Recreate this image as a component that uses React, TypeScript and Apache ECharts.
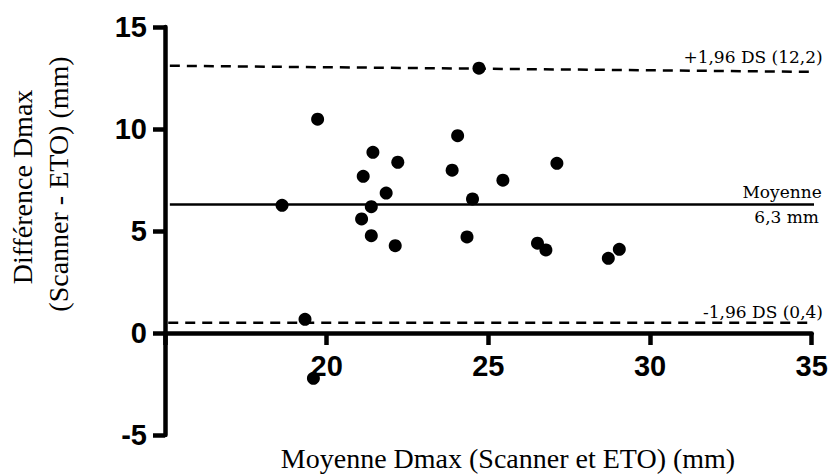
import React, { useEffect, useRef } from "react";
import * as echarts from "echarts";

// Bland-Altman data
const meanDmax = [
  19.72, 18.62, 21.43, 22.2, 21.13, 21.84, 21.38, 21.08, 21.38, 22.12, 24.05, 23.88,
  24.51, 24.34, 25.45, 27.12, 26.52, 26.78, 29.05, 28.71, 24.71, 19.33, 19.59,
];
const diffDmax = [
  10.48, 6.26, 8.86, 8.37, 7.68, 6.86, 6.19, 5.59, 4.77, 4.28, 9.67, 7.98,
  6.57, 4.71, 7.49, 8.32, 4.4, 4.07, 4.1, 3.66, 12.98, 0.67, -2.22,
];

// reference lines (x ends, y ends)
const meanLineX = [15.15, 35.31];
const meanLineY = [6.3, 6.3];
const upperLineX = [15.15, 35.16];
const upperLineY = [13.1, 12.8];
const lowerLineX = [15.1, 35.35];
const lowerLineY = [0.5, 0.5];

const xTicks = [15, 20, 25, 30, 35];
const yTicks = [-5, 0, 5, 10, 15];

const refLabels = ["+1,96 DS (12,2)", "Moyenne", "6,3 mm", "-1,96 DS (0,4)"];
const xTitle = "Moyenne Dmax (Scanner et ETO) (mm)";
const yTitle1 = "Différence Dmax";
const yTitle2 = "(Scanner - ETO) (mm)";

export default function App() {
  const ref = useRef<HTMLDivElement>(null);
  useEffect(() => {
    if (!ref.current) return;
    const chart = echarts.init(ref.current, undefined, { renderer: "svg" });
    const pts = meanDmax.map((x, i) => [x, diffDmax[i]]);
    const lineSeries = (xs: number[], ys: number[], dashed: boolean) => ({
      type: "line",
      data: xs.map((x, i) => [x, ys[i]]),
      showSymbol: false,
      symbol: "none",
      clip: false,
      silent: true,
      z: 1,
      lineStyle: {
        color: "#000",
        width: 2.5,
        type: dashed ? [10, 7] : "solid",
      },
    });
    const labelFont = '17px "DejaVu Serif"';
    const titleFont = '28px "Liberation Serif"';
    const gridTop = 27;
    const gridBottom = 39;
    const plotH = 474 - gridTop - gridBottom;
    // x axis sits at y = 0: shift it up from the bottom of the grid
    const zeroOffset =
      -plotH * (0 - yTicks[0]) / (yTicks[yTicks.length - 1] - yTicks[0]);
    chart.setOption({
      animation: false,
      grid: {
        left: 165,
        right: 21.3,
        top: gridTop,
        bottom: gridBottom,
        containLabel: false,
        outerBoundsMode: "none",
      },
      xAxis: {
        type: "value",
        min: xTicks[0],
        max: xTicks[xTicks.length - 1],
        interval: 5,
        position: "bottom",
        offset: zeroOffset,
        axisLine: { onZero: false, lineStyle: { color: "#000", width: 4.5 } },
        axisTick: { length: 12, lineStyle: { color: "#000", width: 4.5 } },
        axisLabel: {
          formatter: (v: number) => (v === xTicks[0] ? "" : String(v)),
          fontFamily: "Liberation Sans",
          fontWeight: "bold",
          fontSize: 29,
          color: "#000",
          margin: 18,
          showMinLabel: true,
          showMaxLabel: true,
        },
        splitLine: { show: false },
      },
      yAxis: {
        type: "value",
        min: yTicks[0],
        max: yTicks[yTicks.length - 1],
        interval: 5,
        axisLine: { onZero: false, lineStyle: { color: "#000", width: 4.5 } },
        axisTick: { length: 12, lineStyle: { color: "#000", width: 4.5 } },
        axisLabel: {
          fontFamily: "Liberation Sans",
          fontWeight: "bold",
          fontSize: 29,
          color: "#000",
          margin: 18,
          showMinLabel: true,
          showMaxLabel: true,
        },
        splitLine: { show: false },
      },
      series: [
        lineSeries(meanLineX, meanLineY, false),
        lineSeries(upperLineX, upperLineY, true),
        lineSeries(lowerLineX, lowerLineY, true),
        {
          type: "scatter",
          data: pts,
          symbol: "circle",
          symbolSize: 13,
          itemStyle: { color: "#000", opacity: 1 },
          z: 5,
        },
      ],
      graphic: [
        { type: "text", x: 822.7, y: 57, style: { text: refLabels[0], font: labelFont, fill: "#000", textAlign: "right", textVerticalAlign: "middle" } },
        { type: "text", x: 821.7, y: 192, style: { text: refLabels[1], font: labelFont, fill: "#000", textAlign: "right", textVerticalAlign: "middle" } },
        { type: "text", x: 819, y: 217, style: { text: refLabels[2], font: labelFont, fill: "#000", textAlign: "right", textVerticalAlign: "middle" } },
        { type: "text", x: 823, y: 312, style: { text: refLabels[3], font: labelFont, fill: "#000", textAlign: "right", textVerticalAlign: "middle" } },
        { type: "text", x: 508, y: 458, style: { text: xTitle, font: titleFont, fill: "#000", textAlign: "center", textVerticalAlign: "middle" } },
        { type: "text", x: 22, y: 187, rotation: Math.PI / 2, style: { text: yTitle1, font: titleFont, fill: "#000", textAlign: "center", textVerticalAlign: "middle" } },
        { type: "text", x: 58, y: 184, rotation: Math.PI / 2, style: { text: yTitle2, font: titleFont, fill: "#000", textAlign: "center", textVerticalAlign: "middle" } },
      ],
    });
    return () => chart.dispose();
  }, []);
  return (
    <div
      ref={ref}
      style={{ position: "fixed", left: 0, top: 0, width: 833, height: 474, background: "#fff" }}
    />
  );
}
